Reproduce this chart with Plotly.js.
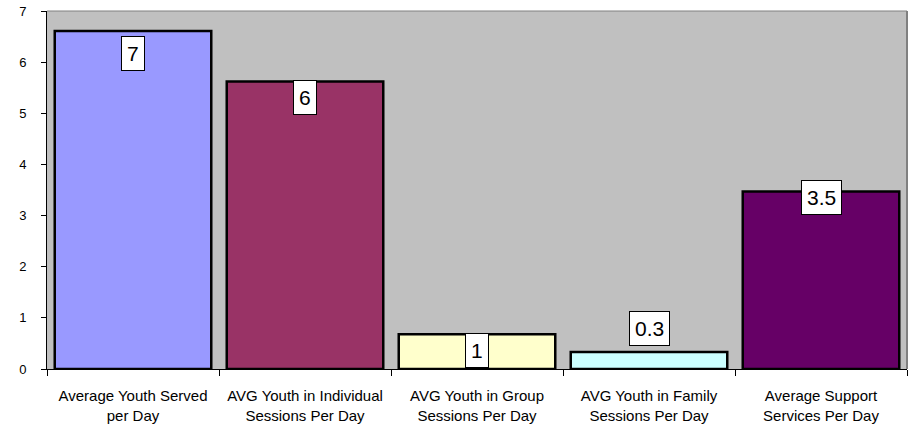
<!DOCTYPE html>
<html><head><meta charset="utf-8">
<script src="https://cdn.plot.ly/plotly-3.0.1.min.js"></script>
<style>body{margin:0;padding:0;background:#fff}</style>
</head><body>
<div id="chart" style="width:913px;height:429px"></div>
<script>
const categories = [
  "Average Youth Served<br>per Day",
  "AVG Youth in Individual<br>Sessions Per Day",
  "AVG Youth in Group<br>Sessions Per Day",
  "AVG Youth in Family<br>Sessions Per Day",
  "Average Support<br>Services Per Day"
];
const values = [6.61, 5.62, 0.68, 0.33, 3.47];
const labels = ["7", "6", "1", "0.3", "3.5"];
const yTicks = [0, 1, 2, 3, 4, 5, 6, 7];

const barColors = ["#9999FF", "#993366", "#FFFFCC", "#CCFFFF", "#660066"];
const labelShift = [-23, -16, -16, 24, -6];

const trace = {
  type: "bar",
  x: categories,
  y: values,
  marker: {color: barColors, line: {color: "#000000", width: 2.5}},
  hoverinfo: "none"
};

const annotations = categories.map((c, i) => ({
  x: c, y: values[i], xref: "x", yref: "y",
  text: labels[i], showarrow: false,
  yanchor: "middle", yshift: labelShift[i],
  font: {family: "Liberation Sans, Arial, sans-serif", size: 21, color: "#000"},
  bgcolor: "#FFFFFF", bordercolor: "#000000", borderwidth: 1, borderpad: 5
}));

const layout = {
  width: 913, height: 429,
  margin: {l: 47, r: 6, t: 11, b: 60},
  paper_bgcolor: "#FFFFFF",
  plot_bgcolor: "#C0C0C0",
  showlegend: false,
  bargap: 0.09,
  font: {family: "Liberation Sans, Arial, sans-serif", color: "#000"},
  xaxis: {
    type: "category",
    tickson: "boundaries",
    ticks: "outside", ticklen: 6, tickcolor: "#000", tickwidth: 1,
    showline: true, linecolor: "#000", linewidth: 1,
    showgrid: false,
    tickfont: {size: 15, color: "#000"},
    ticklabelstandoff: 13,
    fixedrange: true
  },
  yaxis: {
    range: [0, 7],
    tickvals: yTicks,
    ticks: "outside", ticklen: 5, tickcolor: "#000", tickwidth: 1,
    showline: true, linecolor: "#000", linewidth: 1,
    showgrid: false, zeroline: false,
    tickfont: {size: 13, color: "#000"},
    ticklabelstandoff: 12,
    fixedrange: true
  },
  shapes: [{
    type: "line", xref: "paper", yref: "paper",
    x0: 1, x1: 1, y0: 0, y1: 1,
    line: {color: "#808080", width: 2}
  }, {
    type: "line", xref: "paper", yref: "paper",
    x0: 0, x1: 1, y0: 1, y1: 1,
    line: {color: "#808080", width: 1}
  }],
  annotations: annotations
};

Plotly.newPlot("chart", [trace], layout, {displayModeBar: false, staticPlot: true});
</script>
</body></html>
